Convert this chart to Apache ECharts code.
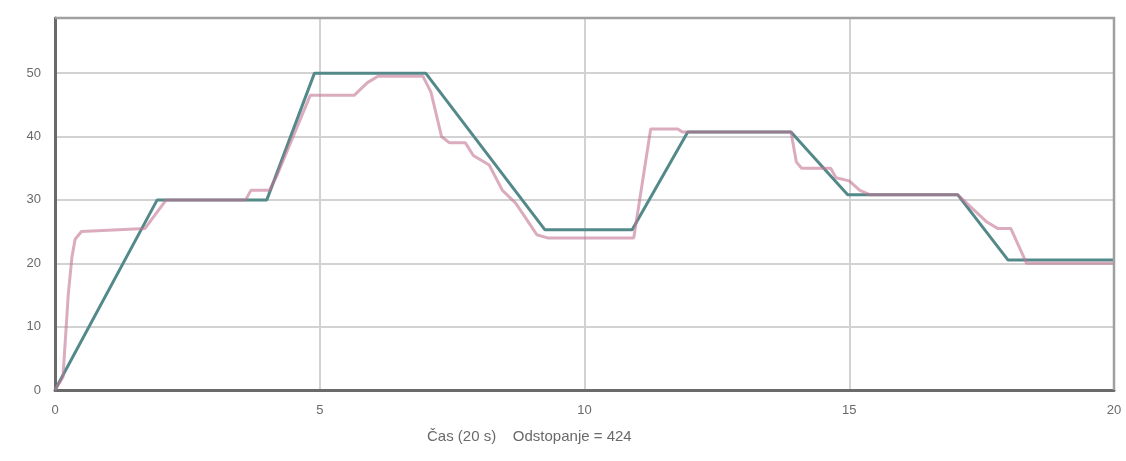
<!DOCTYPE html>
<html>
<head>
<meta charset="utf-8">
<script src="https://cdn.jsdelivr.net/npm/echarts@6/dist/echarts.min.js"></script>
<style>
  html, body { margin: 0; padding: 0; background: #ffffff; }
  #chart { width: 1126px; height: 461px; }
</style>
</head>
<body>
<div id="chart"></div>
<script>
// Time axis ticks (seconds) and value axis ticks
const xTicks = [0, 5, 10, 15, 20];
const yTicks = [0, 10, 20, 30, 40, 50];

// Reference profile (setpoint): [time, value]
const setpointTime  = [0, 1.93, 4.0, 4.9, 7.0, 9.25, 10.9, 11.95, 13.9, 14.97, 17.05, 18.0, 20];
const setpointValue = [0, 30,   30,  50,  50,  25.3, 25.3, 40.7,  40.7, 30.8,  30.8,  20.5, 20.5];

// Measured response: [time, value]
const responseTime  = [0, 0.15, 0.25, 0.32, 0.38, 0.5, 1.7, 2.1, 3.6, 3.7, 4.05, 4.2, 4.82, 5.65, 5.9, 6.1, 6.95,
                       7.1, 7.3, 7.45, 7.75, 7.9, 8.2, 8.45, 8.7, 8.9, 9.1, 9.3, 10.93, 11.25, 11.76, 11.85,
                       13.9, 14.0, 14.1, 14.65, 14.75, 15.0, 15.2, 15.4, 17.05, 17.6, 17.8, 18.05, 18.35, 20];
const responseValue = [0, 2,    15,   21,   23.8, 25,  25.5, 30, 30, 31.5, 31.5, 34, 46.5, 46.5, 48.5, 49.5, 49.5,
                       47,  40,  39,   39,   37,  35.5, 31.5, 29.5, 27, 24.5, 24, 24,    41.2,  41.2,  40.7,
                       40.7, 36, 35,  35,    33.5,  33,   31.5, 30.8, 30.8, 26.5, 25.5, 25.5, 20,    20];

const yMax = 58.7;

const setpointData = setpointTime.map((t, i) => [t, setpointValue[i]]);
const responseData = responseTime.map((t, i) => [t, responseValue[i]]);

const chart = echarts.init(document.getElementById('chart'), null, { renderer: 'canvas' });

const labelStyle = { color: '#6a6a6a', fontSize: 13, fontFamily: 'Liberation Sans, Arial, sans-serif', margin: 14 };

chart.setOption({
  backgroundColor: '#ffffff',
  animation: false,
  grid: { left: 55, right: 12, top: 18, bottom: 71 },
  xAxis: {
    type: 'value',
    min: xTicks[0],
    max: xTicks[xTicks.length - 1],
    interval: 5,
    axisLine: { show: true, onZero: false, lineStyle: { color: '#6a6a6a', width: 3 } },
    axisTick: { show: false },
    axisLabel: labelStyle,
    splitLine: { show: true, lineStyle: { color: '#d2d2d2', width: 2 } }
  },
  yAxis: {
    type: 'value',
    min: yTicks[0],
    max: yMax,
    interval: 10,
    axisLine: { show: true, onZero: false, lineStyle: { color: '#6a6a6a', width: 3 } },
    axisTick: { show: false },
    axisLabel: Object.assign({}, labelStyle, { showMaxLabel: false }),
    splitLine: { show: true, lineStyle: { color: '#d2d2d2', width: 2 } }
  },
  graphic: [
    {
      // top and right frame of the plotting area
      type: 'polyline',
      shape: { points: [[55, 18], [1114, 18], [1114, 390]] },
      style: { stroke: '#a0a0a0', lineWidth: 2.5, fill: null },
      z: 5
    },
    {
      type: 'text',
      left: 427,
      top: 429,
      style: {
        text: 'Čas (20 s)    Odstopanje = 424',
        font: '15px "Liberation Sans", Arial, sans-serif',
        fill: '#6a6a6a'
      }
    }
  ],
  series: [
    {
      name: 'setpoint',
      type: 'line',
      data: setpointData,
      showSymbol: false,
      lineStyle: { color: '#54898a', width: 3 },
      z: 3
    },
    {
      name: 'response',
      type: 'line',
      data: responseData,
      showSymbol: false,
      smooth: false,
      lineStyle: { color: '#c27493', width: 3, opacity: 0.6 },
      z: 4
    }
  ]
});
</script>
</body>
</html>
